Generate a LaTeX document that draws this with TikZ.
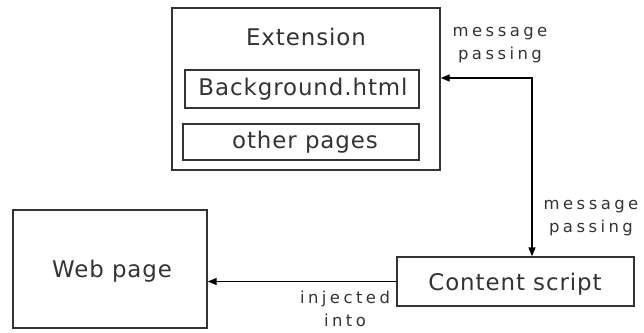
\documentclass[tikz,border=0pt]{standalone}
\usepackage{fontspec}
\setmainfont{DejaVu Sans}
\newfontfamily\lblfont[LetterSpace=21]{DejaVu Sans}
\newfontfamily\boxfont[LetterSpace=4]{DejaVu Sans}
\usetikzlibrary{arrows.meta}
\definecolor{ink}{HTML}{333333}
\begin{document}
\begin{tikzpicture}[x=1bp,y=-1bp,
  box/.style={draw=ink,line width=1.4bp,rectangle,inner sep=0pt,minimum width=#1},
  boxtext/.style={text=ink,font=\boxfont\fontsize{23}{27}\selectfont,inner sep=0pt},
  lbl/.style={text=ink,font=\lblfont\fontsize{16.5}{23}\selectfont,align=center,inner sep=0pt},
  arr/.style={line width=1.4bp,black,-{Triangle[length=9bp,width=7bp]}},
  barr/.style={line width=1.4bp,black,{Triangle[length=9bp,width=7bp]}-{Triangle[length=9bp,width=7bp]}}]
\useasboundingbox (0,0) rectangle (644,332);
\node[box=268bp,minimum height=162bp] (ext) at (306,89) {};
\node[box=234bp,minimum height=38bp] (bg) at (302,89) {};
\node[box=236bp,minimum height=36bp] (other) at (301,142) {};
\node[box=194bp,minimum height=118bp] (web) at (110,269) {};
\node[box=237bp,minimum height=49bp] (cs) at (515.5,281.5) {};
\node[boxtext] (exttxt) at (306,37) {Extension};
\node[boxtext] (bgtxt) at (303,89) {Background.html};
\node[boxtext] (othertxt) at (305,142) {other pages};
\node[boxtext] (webtxt) at (112,271) {Web page};
\node[boxtext] (cstxt) at (515,284) {Content script};
\coordinate (corner) at (532,78);
\draw[barr] (ext.east |- corner) -- (corner) -- (cs.north -| corner);
\draw[arr] (cs.west) -- (web.east |- cs.west);
\node[lbl] (l1) at (500,45) {message\\passing};
\node[lbl] (l2) at (591,218) {message\\passing};
\node[lbl] (l3) at (345,309) {injected\\into};
\end{tikzpicture}
\end{document}
